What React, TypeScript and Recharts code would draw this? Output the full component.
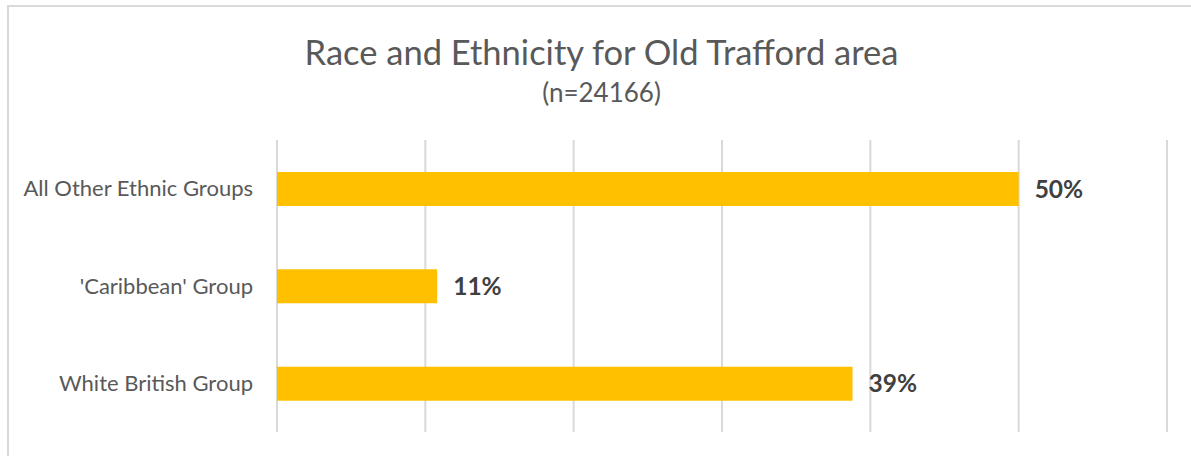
import { Bar, BarChart, CartesianGrid, LabelList, XAxis, YAxis } from "recharts";

const categories = ["All Other Ethnic Groups", "'Caribbean' Group", "White British Group"];
const shares = [50.0, 10.8, 38.8];
const xTicks = [0, 10, 20, 30, 40, 50, 60];

const data = categories.map((name, i) => ({ name, share: shares[i] }));

const textGrey = "#595959";
const font = "Lato, 'Open Sans', sans-serif";

export default function App() {
  return (
    <div
      style={{
        position: "absolute",
        left: 0,
        top: 0,
        width: 1191,
        height: 456,
        overflow: "hidden",
        background: "#fff",
        fontFamily: font,
      }}
    >
      <div
        style={{
          position: "absolute",
          left: 7,
          top: 5,
          width: 1220,
          height: 500,
          border: "2px solid #d9d9d9",
        }}
      />
      <div
        style={{
          position: "absolute",
          left: 0,
          width: 1203,
          top: 30,
          textAlign: "center",
          fontSize: 34.5,
          color: textGrey,
          lineHeight: "44px",
        }}
      >
        Race and Ethnicity for Old Trafford area
      </div>
      <div
        style={{
          position: "absolute",
          left: 0,
          width: 1203,
          top: 76,
          textAlign: "center",
          fontSize: 26,
          color: textGrey,
          lineHeight: "32px",
        }}
      >
        (n=24166)
      </div>
      <div style={{ position: "absolute", left: 0, top: 0 }}>
        <BarChart
          width={1191}
          height={456}
          data={data}
          layout="vertical"
          margin={{ top: 140, right: 24, bottom: 24, left: 0 }}
        >
          <CartesianGrid horizontal={false} stroke="#d9d9d9" strokeWidth={2} />
          <XAxis type="number" domain={[0, 60]} ticks={xTicks} hide />
          <YAxis
            type="category"
            dataKey="name"
            width={277}
            axisLine={false}
            tickLine={false}
            tickMargin={18}
            tick={{ fill: textGrey, fontSize: 22, fontFamily: font }}
          />
          <Bar dataKey="share" fill="#FFC000" barSize={34} isAnimationActive={false}>
            <LabelList
              dataKey="share"
              position="right"
              offset={16}
              formatter={(v: number) => `${Math.round(v)}%`}
              fill="#404040"
              fontSize={24.5}
              fontWeight="bold"
              fontFamily={font}
            />
          </Bar>
        </BarChart>
      </div>
    </div>
  );
}
